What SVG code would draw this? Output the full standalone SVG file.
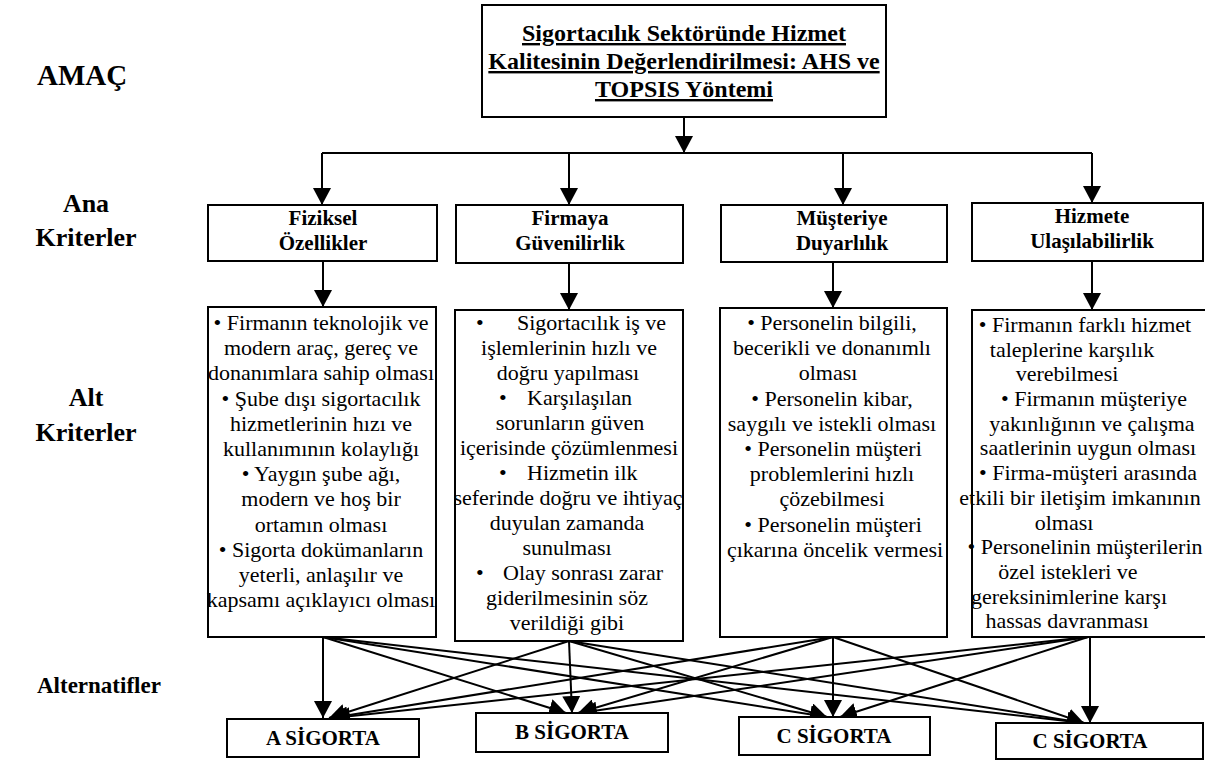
<svg xmlns="http://www.w3.org/2000/svg" width="1205" height="760" viewBox="0 0 1205 760">
  <defs>
    <marker id="ah" markerUnits="userSpaceOnUse" markerWidth="18" markerHeight="18" refX="17" refY="9" orient="auto">
      <path d="M0,0 L17,9 L0,18 z" fill="#000" stroke="none"/>
    </marker>
  </defs>
  <rect width="1205" height="760" fill="#fff"/>

  <!-- connectors: all black 2px, arrowheads at the end -->
  <g id="connectors" fill="none" stroke="#000" stroke-width="2" marker-end="url(#ah)">
    <path d="M684,117 V153"/>
    <path d="M322,153 H1092" marker-end="none"/>
    <path d="M322,153 V205"/>
    <path d="M569,153 V205"/>
    <path d="M843,153 V205"/>
    <path d="M1092,153 V203"/>

    <path d="M323,261 V307"/>
    <path d="M569,263 V310"/>
    <path d="M833,262 V308"/>
    <path d="M1092,261 V310"/>

    <!-- every sub-criteria block feeds every alternative -->
    <path d="M323,637 L323,718"/>
    <path d="M323,637 L566,713"/>
    <path d="M323,637 L827,717"/>
    <path d="M323,637 L1084,723"/>

    <path d="M569,641 L329,718"/>
    <path d="M569,641 L572,713"/>
    <path d="M569,641 L827,717"/>
    <path d="M569,641 L1084,723"/>

    <path d="M833,637 L331,718"/>
    <path d="M833,637 L578,713"/>
    <path d="M833,637 L833,717"/>
    <path d="M833,637 L1084,723"/>

    <path d="M1088,637 L333,718"/>
    <path d="M1088,637 L580,713"/>
    <path d="M1088,637 L840,717"/>
    <path d="M1090,637 L1090,723"/>
  </g>

  <g font-family="Liberation Serif, serif" fill="#000">

  <!-- level labels -->
  <g id="levels" font-size="26" font-weight="bold">
    <text x="37" y="85" font-size="29">AMAÇ</text>
    <text x="86" y="212" text-anchor="middle">Ana</text>
    <text x="86" y="246" text-anchor="middle">Kriterler</text>
    <text x="86" y="406" text-anchor="middle">Alt</text>
    <text x="86" y="441" text-anchor="middle">Kriterler</text>
    <text x="37" y="693" font-size="23">Alternatifler</text>
  </g>

  <!-- goal -->
  <g id="goal" font-size="24" font-weight="bold" text-anchor="middle" text-decoration="underline">
    <rect x="482" y="5" width="404" height="112" fill="#fff" stroke="#000" stroke-width="2"/>
    <text x="684" y="41">Sigortacılık Sektöründe Hizmet</text>
    <text x="684" y="69">Kalitesinin Değerlendirilmesi: AHS ve</text>
    <text x="684" y="97">TOPSIS Yöntemi</text>
  </g>

  <!-- main criteria -->
  <g id="crit-fiziksel" font-size="21" font-weight="bold" text-anchor="middle">
    <rect x="208" y="205" width="229" height="56" fill="#fff" stroke="#000" stroke-width="2"/>
    <text x="323" y="225">Fiziksel</text>
    <text x="323" y="250">Özellikler</text>
  </g>
  <g id="crit-guvenilirlik" font-size="21" font-weight="bold" text-anchor="middle">
    <rect x="456" y="205" width="227" height="58" fill="#fff" stroke="#000" stroke-width="2"/>
    <text x="570" y="225">Firmaya</text>
    <text x="570" y="250">Güvenilirlik</text>
  </g>
  <g id="crit-duyarlilik" font-size="21" font-weight="bold" text-anchor="middle">
    <rect x="721" y="205" width="226" height="57" fill="#fff" stroke="#000" stroke-width="2"/>
    <text x="842" y="225">Müşteriye</text>
    <text x="842" y="250">Duyarlılık</text>
  </g>
  <g id="crit-ulasilabilirlik" font-size="21" font-weight="bold" text-anchor="middle">
    <rect x="972" y="203" width="231" height="58" fill="#fff" stroke="#000" stroke-width="2"/>
    <text x="1092" y="223">Hizmete</text>
    <text x="1092" y="248">Ulaşılabilirlik</text>
  </g>

  <!-- sub criteria -->
  <g id="sub-fiziksel" font-size="22" text-anchor="middle">
    <rect x="208" y="307" width="228" height="330" fill="#fff" stroke="#000" stroke-width="2"/>
    <text x="321" y="330">• Firmanın teknolojik ve</text>
    <text x="321" y="355">modern araç, gereç ve</text>
    <text x="321" y="380">donanımlara sahip olması</text>
    <text x="321" y="406">• Şube dışı sigortacılık</text>
    <text x="321" y="431">hizmetlerinin hızı ve</text>
    <text x="321" y="456">kullanımının kolaylığı</text>
    <text x="321" y="481">• Yaygın şube ağı,</text>
    <text x="321" y="506">modern ve hoş bir</text>
    <text x="321" y="532">ortamın olması</text>
    <text x="321" y="557">• Sigorta dokümanların</text>
    <text x="321" y="582">yeterli, anlaşılır ve</text>
    <text x="321" y="607">kapsamı açıklayıcı olması</text>
  </g>

  <g id="sub-guvenilirlik" font-size="22">
    <rect x="455" y="310" width="228" height="331" fill="#fff" stroke="#000" stroke-width="2"/>
    <text x="476" y="330">•</text>
    <text x="517" y="330">Sigortacılık iş ve</text>
    <text x="499" y="405">•</text>
    <text x="527" y="405">Karşılaşılan</text>
    <text x="499" y="480">•</text>
    <text x="527" y="480">Hizmetin ilk</text>
    <text x="476" y="580">•</text>
    <text x="503" y="580">Olay sonrası zarar</text>
    <g text-anchor="middle">
      <text x="569" y="355">işlemlerinin hızlı ve</text>
      <text x="568" y="380">doğru yapılması</text>
      <text x="570" y="430">sorunların güven</text>
      <text x="569" y="455">içerisinde çözümlenmesi</text>
      <text x="568" y="505">seferinde doğru ve ihtiyaç</text>
      <text x="567" y="530">duyulan zamanda</text>
      <text x="567" y="555">sunulması</text>
      <text x="567" y="605">giderilmesinin söz</text>
      <text x="567" y="630">verildiği gibi</text>
    </g>
  </g>

  <g id="sub-duyarlilik" font-size="22" text-anchor="middle">
    <rect x="720" y="308" width="227" height="329" fill="#fff" stroke="#000" stroke-width="2"/>
    <text x="832" y="330">• Personelin bilgili,</text>
    <text x="832" y="355">becerikli ve donanımlı</text>
    <text x="828" y="380">olması</text>
    <text x="832" y="406">• Personelin kibar,</text>
    <text x="832" y="431">saygılı ve istekli olması</text>
    <text x="833" y="456">• Personelin müşteri</text>
    <text x="832" y="481">problemlerini hızlı</text>
    <text x="832" y="506">çözebilmesi</text>
    <text x="833" y="532">• Personelin müşteri</text>
    <text x="835" y="557">çıkarına öncelik vermesi</text>
  </g>

  <g id="sub-ulasilabilirlik" font-size="22" text-anchor="middle">
    <rect x="972" y="310" width="245" height="327" fill="#fff" stroke="#000" stroke-width="2"/>
    <text x="1085" y="332">• Firmanın farklı hizmet</text>
    <text x="1072" y="357">taleplerine karşılık</text>
    <text x="1067" y="381">verebilmesi</text>
    <text x="1094" y="406">• Firmanın müşteriye</text>
    <text x="1092" y="431">yakınlığının ve çalışma</text>
    <text x="1088" y="455">saatlerinin uygun olması</text>
    <text x="1088" y="480">• Firma-müşteri arasında</text>
    <text x="1080" y="505">etkili bir iletişim imkanının</text>
    <text x="1064" y="530">olması</text>
    <text x="1085" y="554">• Personelinin müşterilerin</text>
    <text x="1068" y="579">özel istekleri ve</text>
    <text x="1069" y="604">gereksinimlerine karşı</text>
    <text x="1067" y="628">hassas davranması</text>
  </g>

  <!-- alternatives -->
  <g id="alt-a" font-size="21" font-weight="bold" text-anchor="middle">
    <rect x="227" y="719" width="192" height="38" fill="#fff" stroke="#000" stroke-width="2"/>
    <text x="323" y="745">A SİGORTA</text>
  </g>
  <g id="alt-b" font-size="21" font-weight="bold" text-anchor="middle">
    <rect x="476" y="713" width="192" height="39" fill="#fff" stroke="#000" stroke-width="2"/>
    <text x="572" y="739">B SİGORTA</text>
  </g>
  <g id="alt-c" font-size="21" font-weight="bold" text-anchor="middle">
    <rect x="739" y="717" width="191" height="38" fill="#fff" stroke="#000" stroke-width="2"/>
    <text x="834" y="743">C SİGORTA</text>
  </g>
  <g id="alt-c2" font-size="21" font-weight="bold" text-anchor="middle">
    <rect x="996" y="723" width="207" height="36" fill="#fff" stroke="#000" stroke-width="2"/>
    <text x="1090" y="748">C SİGORTA</text>
  </g>

  </g>
</svg>
